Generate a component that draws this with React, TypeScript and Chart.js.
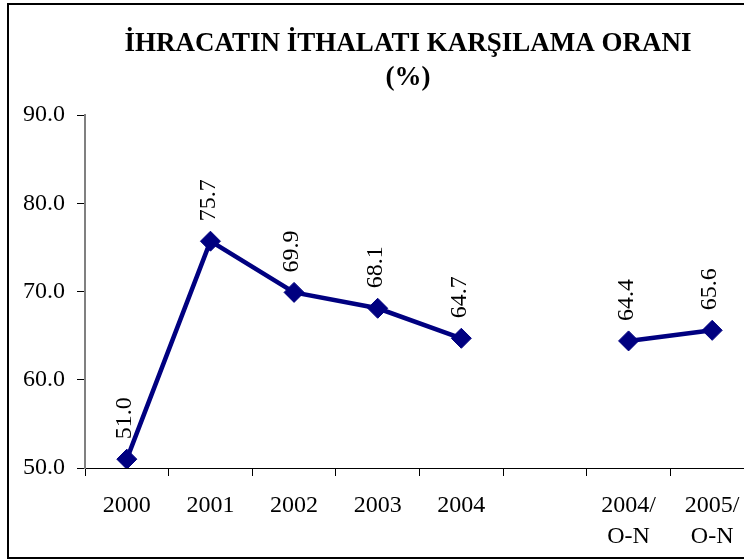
import React, { useEffect, useRef } from "react";
import { Chart, registerables } from "chart.js";

Chart.register(...registerables);

const titleLines = ["İHRACATIN İTHALATI KARŞILAMA ORANI", "(%)"];
const categories: (string | string[])[] = [
  "2000",
  "2001",
  "2002",
  "2003",
  "2004",
  "",
  ["2004/", "O-N"],
  ["2005/", "O-N"],
];
const ratioValues: (number | null)[] = [51.0, 75.7, 69.9, 68.1, 64.7, null, 64.4, 65.6];
const yMin = 50;
const yMax = 90;
const yStep = 10;

const FONT = '"Liberation Serif", "Times New Roman", serif';

const frameBorder = {
  id: "frameBorder",
  beforeDraw(chart: any) {
    const ctx = chart.ctx;
    ctx.save();
    ctx.fillStyle = "#fff";
    ctx.fillRect(0, 0, chart.width, chart.height);
    ctx.strokeStyle = "#000";
    ctx.lineWidth = 2;
    ctx.strokeRect(8, 4, 802, 554);
    ctx.restore();
  },
};

const centeredTitle = {
  id: "centeredTitle",
  afterDraw(chart: any) {
    const ctx = chart.ctx;
    ctx.save();
    ctx.fillStyle = "#000";
    ctx.font = `bold 27px ${FONT}`;
    ctx.textAlign = "center";
    ctx.textBaseline = "middle";
    const cx = 408;
    titleLines.forEach((line, i) => {
      ctx.fillText(line, cx, 44 + i * 33.75);
    });
    ctx.restore();
  },
};

const valueLabels = {
  id: "valueLabels",
  afterDatasetsDraw(chart: any) {
    const ctx = chart.ctx;
    const meta = chart.getDatasetMeta(0);
    const data = chart.data.datasets[0].data;
    ctx.save();
    ctx.fillStyle = "#000";
    ctx.font = `24px ${FONT}`;
    ctx.textAlign = "left";
    ctx.textBaseline = "middle";
    meta.data.forEach((pt: any, i: number) => {
      const v = data[i];
      if (v === null || v === undefined) return;
      ctx.save();
      ctx.translate(pt.x - 2, pt.y - 20);
      ctx.rotate(-Math.PI / 2);
      ctx.fillText(v.toFixed(1), 0, 0);
      ctx.restore();
    });
    ctx.restore();
  },
};

export default function App() {
  const ref = useRef<HTMLCanvasElement | null>(null);
  useEffect(() => {
    if (!ref.current) return;
    Chart.defaults.color = "#000";
    const chart = new Chart(ref.current, {
      type: "line",
      data: {
        labels: categories,
        datasets: [
          {
            data: ratioValues,
            borderColor: "#000080",
            backgroundColor: "#000080",
            borderWidth: 4.5,
            pointStyle: "rectRot",
            pointRadius: 10,
            pointBorderWidth: 1,
            pointBackgroundColor: "#000080",
            pointBorderColor: "#000080",
            spanGaps: false,
            tension: 0,
          },
        ],
      },
      options: {
        responsive: false,
        animation: false,
        devicePixelRatio: 1,
        layout: { padding: { left: 0, right: 62, top: 115, bottom: 0 } },
        plugins: {
          legend: { display: false },
          tooltip: { enabled: false },
          title: { display: false },
        },
        scales: {
          x: {
            offset: true,
            grid: {
              offset: true,
              drawOnChartArea: false,
              drawTicks: true,
              tickLength: 8,
              color: "#000",
              lineWidth: 1,
            },
            border: { color: "#000", width: 1 },
            ticks: {
              color: "#000",
              font: { family: FONT, size: 24, lineHeight: 1.3 },
              padding: 14,
              maxRotation: 0,
              autoSkip: false,
            },
            afterFit(scale: any) {
              scale.height = 92;
            },
          },
          y: {
            min: yMin,
            max: yMax,
            grid: {
              drawOnChartArea: false,
              drawTicks: true,
              tickLength: 8,
              color: "#000",
              lineWidth: 1,
            },
            border: { color: "#808080", width: 2 },
            ticks: {
              stepSize: yStep,
              color: "#000",
              font: { family: FONT, size: 24 },
              padding: 12,
              callback: (v: any) => Number(v).toFixed(1),
            },
            afterFit(scale: any) {
              scale.width = 85;
            },
          },
        },
      },
      plugins: [frameBorder, valueLabels, centeredTitle],
    });
    return () => chart.destroy();
  }, []);

  return (
    <div
      style={{
        position: "fixed",
        left: 0,
        top: 0,
        width: 744,
        height: 560,
        overflow: "hidden",
        background: "#fff",
      }}
    >
      <canvas ref={ref} width={816} height={560} style={{ display: "block", width: 816, height: 560 }} />
    </div>
  );
}
